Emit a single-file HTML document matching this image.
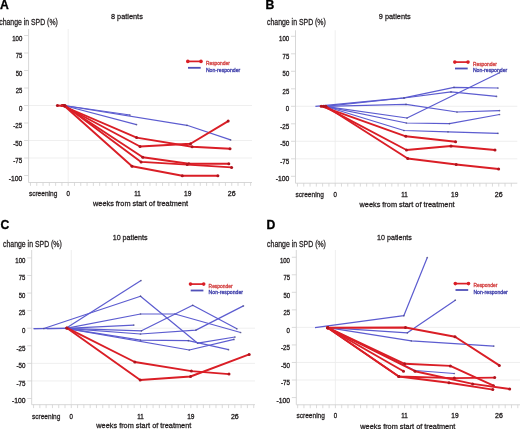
<!DOCTYPE html>
<html><head><meta charset="utf-8"><style>
html,body{margin:0;padding:0;background:#fff;width:520px;height:429px;overflow:hidden}
svg{display:block;font-family:"Liberation Sans", sans-serif;will-change:transform}
</style></head><body>
<svg width="520" height="429" viewBox="0 0 520 429">
<rect width="520" height="429" fill="#fff"/>
<line x1="28.6" y1="105.50" x2="252" y2="105.50" stroke="#ebebeb" stroke-width="0.8"/>
<line x1="28.6" y1="140.50" x2="252" y2="140.50" stroke="#ebebeb" stroke-width="0.8"/>
<line x1="28.6" y1="158.00" x2="252" y2="158.00" stroke="#ebebeb" stroke-width="0.8"/>
<line x1="68.2" y1="29.0" x2="68.2" y2="182.5" stroke="#ebebeb" stroke-width="0.8"/>
<line x1="28.6" y1="29.0" x2="28.6" y2="182.5" stroke="#d2d2d2" stroke-width="0.9"/>
<line x1="28.6" y1="182.5" x2="252" y2="182.5" stroke="#d2d2d2" stroke-width="0.9"/>
<line x1="24.1" y1="35.50" x2="28.6" y2="35.50" stroke="#d2d2d2" stroke-width="0.8"/>
<text x="22.3" y="40.70" font-size="6.9" fill="#231f20" font-weight="normal" text-anchor="end" stroke="#231f20" stroke-width="0.32" textLength="10.1" lengthAdjust="spacingAndGlyphs">100</text>
<line x1="24.1" y1="53.00" x2="28.6" y2="53.00" stroke="#d2d2d2" stroke-width="0.8"/>
<text x="22.3" y="58.20" font-size="6.9" fill="#231f20" font-weight="normal" text-anchor="end" stroke="#231f20" stroke-width="0.32" textLength="6.6" lengthAdjust="spacingAndGlyphs">75</text>
<line x1="24.1" y1="70.50" x2="28.6" y2="70.50" stroke="#d2d2d2" stroke-width="0.8"/>
<text x="22.3" y="75.70" font-size="6.9" fill="#231f20" font-weight="normal" text-anchor="end" stroke="#231f20" stroke-width="0.32" textLength="6.6" lengthAdjust="spacingAndGlyphs">50</text>
<line x1="24.1" y1="88.00" x2="28.6" y2="88.00" stroke="#d2d2d2" stroke-width="0.8"/>
<text x="22.3" y="93.20" font-size="6.9" fill="#231f20" font-weight="normal" text-anchor="end" stroke="#231f20" stroke-width="0.32" textLength="6.6" lengthAdjust="spacingAndGlyphs">25</text>
<line x1="24.1" y1="105.50" x2="28.6" y2="105.50" stroke="#d2d2d2" stroke-width="0.8"/>
<text x="22.3" y="110.70" font-size="6.9" fill="#231f20" font-weight="normal" text-anchor="end" stroke="#231f20" stroke-width="0.32" textLength="3.4" lengthAdjust="spacingAndGlyphs">0</text>
<line x1="24.1" y1="123.00" x2="28.6" y2="123.00" stroke="#d2d2d2" stroke-width="0.8"/>
<text x="22.3" y="128.20" font-size="6.9" fill="#231f20" font-weight="normal" text-anchor="end" stroke="#231f20" stroke-width="0.32" textLength="9.0" lengthAdjust="spacingAndGlyphs">-25</text>
<line x1="24.1" y1="140.50" x2="28.6" y2="140.50" stroke="#d2d2d2" stroke-width="0.8"/>
<text x="22.3" y="145.70" font-size="6.9" fill="#231f20" font-weight="normal" text-anchor="end" stroke="#231f20" stroke-width="0.32" textLength="9.0" lengthAdjust="spacingAndGlyphs">-50</text>
<line x1="24.1" y1="158.00" x2="28.6" y2="158.00" stroke="#d2d2d2" stroke-width="0.8"/>
<text x="22.3" y="163.20" font-size="6.9" fill="#231f20" font-weight="normal" text-anchor="end" stroke="#231f20" stroke-width="0.32" textLength="9.0" lengthAdjust="spacingAndGlyphs">-75</text>
<line x1="24.1" y1="175.50" x2="28.6" y2="175.50" stroke="#d2d2d2" stroke-width="0.8"/>
<text x="22.3" y="180.70" font-size="6.9" fill="#231f20" font-weight="normal" text-anchor="end" stroke="#231f20" stroke-width="0.32" textLength="13.5" lengthAdjust="spacingAndGlyphs">-100</text>
<line x1="30.46" y1="182.5" x2="30.46" y2="185.9" stroke="#d2d2d2" stroke-width="0.8"/>
<line x1="36.75" y1="182.5" x2="36.75" y2="185.9" stroke="#d2d2d2" stroke-width="0.8"/>
<line x1="43.04" y1="182.5" x2="43.04" y2="185.9" stroke="#d2d2d2" stroke-width="0.8"/>
<line x1="49.33" y1="182.5" x2="49.33" y2="185.9" stroke="#d2d2d2" stroke-width="0.8"/>
<line x1="55.62" y1="182.5" x2="55.62" y2="185.9" stroke="#d2d2d2" stroke-width="0.8"/>
<line x1="61.91" y1="182.5" x2="61.91" y2="185.9" stroke="#d2d2d2" stroke-width="0.8"/>
<line x1="68.20" y1="182.5" x2="68.20" y2="185.9" stroke="#d2d2d2" stroke-width="0.8"/>
<line x1="74.49" y1="182.5" x2="74.49" y2="185.9" stroke="#d2d2d2" stroke-width="0.8"/>
<line x1="80.78" y1="182.5" x2="80.78" y2="185.9" stroke="#d2d2d2" stroke-width="0.8"/>
<line x1="87.07" y1="182.5" x2="87.07" y2="185.9" stroke="#d2d2d2" stroke-width="0.8"/>
<line x1="93.36" y1="182.5" x2="93.36" y2="185.9" stroke="#d2d2d2" stroke-width="0.8"/>
<line x1="99.65" y1="182.5" x2="99.65" y2="185.9" stroke="#d2d2d2" stroke-width="0.8"/>
<line x1="105.94" y1="182.5" x2="105.94" y2="185.9" stroke="#d2d2d2" stroke-width="0.8"/>
<line x1="112.23" y1="182.5" x2="112.23" y2="185.9" stroke="#d2d2d2" stroke-width="0.8"/>
<line x1="118.52" y1="182.5" x2="118.52" y2="185.9" stroke="#d2d2d2" stroke-width="0.8"/>
<line x1="124.81" y1="182.5" x2="124.81" y2="185.9" stroke="#d2d2d2" stroke-width="0.8"/>
<line x1="131.10" y1="182.5" x2="131.10" y2="185.9" stroke="#d2d2d2" stroke-width="0.8"/>
<line x1="137.39" y1="182.5" x2="137.39" y2="185.9" stroke="#d2d2d2" stroke-width="0.8"/>
<line x1="143.68" y1="182.5" x2="143.68" y2="185.9" stroke="#d2d2d2" stroke-width="0.8"/>
<line x1="149.97" y1="182.5" x2="149.97" y2="185.9" stroke="#d2d2d2" stroke-width="0.8"/>
<line x1="156.26" y1="182.5" x2="156.26" y2="185.9" stroke="#d2d2d2" stroke-width="0.8"/>
<line x1="162.55" y1="182.5" x2="162.55" y2="185.9" stroke="#d2d2d2" stroke-width="0.8"/>
<line x1="168.84" y1="182.5" x2="168.84" y2="185.9" stroke="#d2d2d2" stroke-width="0.8"/>
<line x1="175.13" y1="182.5" x2="175.13" y2="185.9" stroke="#d2d2d2" stroke-width="0.8"/>
<line x1="181.42" y1="182.5" x2="181.42" y2="185.9" stroke="#d2d2d2" stroke-width="0.8"/>
<line x1="187.71" y1="182.5" x2="187.71" y2="185.9" stroke="#d2d2d2" stroke-width="0.8"/>
<line x1="194.00" y1="182.5" x2="194.00" y2="185.9" stroke="#d2d2d2" stroke-width="0.8"/>
<line x1="200.29" y1="182.5" x2="200.29" y2="185.9" stroke="#d2d2d2" stroke-width="0.8"/>
<line x1="206.58" y1="182.5" x2="206.58" y2="185.9" stroke="#d2d2d2" stroke-width="0.8"/>
<line x1="212.87" y1="182.5" x2="212.87" y2="185.9" stroke="#d2d2d2" stroke-width="0.8"/>
<line x1="219.16" y1="182.5" x2="219.16" y2="185.9" stroke="#d2d2d2" stroke-width="0.8"/>
<line x1="225.45" y1="182.5" x2="225.45" y2="185.9" stroke="#d2d2d2" stroke-width="0.8"/>
<line x1="231.74" y1="182.5" x2="231.74" y2="185.9" stroke="#d2d2d2" stroke-width="0.8"/>
<line x1="238.03" y1="182.5" x2="238.03" y2="185.9" stroke="#d2d2d2" stroke-width="0.8"/>
<line x1="244.32" y1="182.5" x2="244.32" y2="185.9" stroke="#d2d2d2" stroke-width="0.8"/>
<line x1="250.61" y1="182.5" x2="250.61" y2="185.9" stroke="#d2d2d2" stroke-width="0.8"/>
<text x="28.9" y="195.6" font-size="7.6" fill="#231f20" font-weight="normal" text-anchor="start" stroke="#231f20" stroke-width="0.28" textLength="28.4" lengthAdjust="spacingAndGlyphs">screening</text>
<text x="68.20" y="195.6" font-size="6.9" fill="#231f20" font-weight="normal" text-anchor="middle" stroke="#231f20" stroke-width="0.32" textLength="3.4" lengthAdjust="spacingAndGlyphs">0</text>
<text x="137.39" y="195.6" font-size="6.9" fill="#231f20" font-weight="normal" text-anchor="middle" stroke="#231f20" stroke-width="0.32" textLength="6.5" lengthAdjust="spacingAndGlyphs">11</text>
<text x="187.71" y="195.6" font-size="6.9" fill="#231f20" font-weight="normal" text-anchor="middle" stroke="#231f20" stroke-width="0.32" textLength="7.3" lengthAdjust="spacingAndGlyphs">19</text>
<text x="231.74" y="195.6" font-size="6.9" fill="#231f20" font-weight="normal" text-anchor="middle" stroke="#231f20" stroke-width="0.32" textLength="7.8" lengthAdjust="spacingAndGlyphs">26</text>
<text x="93" y="206.4" font-size="7.4" fill="#231f20" font-weight="normal" text-anchor="start" stroke="#231f20" stroke-width="0.28" textLength="95" lengthAdjust="spacingAndGlyphs">weeks from start of treatment</text>
<text x="0.1" y="8.7" font-size="12.2" fill="#000" font-weight="bold" text-anchor="start" stroke="#000" stroke-width="0.3">A</text>
<text x="-0.8" y="24.5" font-size="8.3" fill="#231f20" font-weight="normal" text-anchor="start" stroke="#231f20" stroke-width="0.28" textLength="58.6" lengthAdjust="spacingAndGlyphs">change in SPD (%)</text>
<text x="111" y="18.6" font-size="7.6" fill="#231f20" font-weight="normal" text-anchor="start" stroke="#231f20" stroke-width="0.28" textLength="31.8" lengthAdjust="spacingAndGlyphs">8 patients</text>
<line x1="187.8" y1="61.4" x2="201.0" y2="61.4" stroke="#da1e26" stroke-width="1.7"/>
<circle cx="187.8" cy="61.4" r="1.8" fill="#da1e26"/>
<circle cx="201.0" cy="61.4" r="1.8" fill="#da1e26"/>
<line x1="188.0" y1="67.8" x2="200.7" y2="67.8" stroke="#5050b8" stroke-width="1.8"/>
<text x="205.9" y="65.0" font-size="5.2" fill="#d23a3a" font-weight="normal" text-anchor="start" stroke="#d23a3a" stroke-width="0.28" textLength="24" lengthAdjust="spacingAndGlyphs">Responder</text>
<text x="205.9" y="71.7" font-size="5.2" fill="#3a3aa8" font-weight="normal" text-anchor="start" stroke="#3a3aa8" stroke-width="0.28" textLength="34.4" lengthAdjust="spacingAndGlyphs">Non-responder</text>
<polyline points="64,105.5 187,125.3 230.6,139.9" fill="none" stroke="#5c5cd0" stroke-width="1.2" stroke-linejoin="round"/>
<circle cx="187" cy="125.3" r="0.85" fill="#4a4a80" opacity="0.75"/>
<circle cx="230.6" cy="139.9" r="0.85" fill="#4a4a80" opacity="0.75"/>
<polyline points="64,105.5 136.5,124.6" fill="none" stroke="#5c5cd0" stroke-width="1.2" stroke-linejoin="round"/>
<circle cx="136.5" cy="124.6" r="0.85" fill="#4a4a80" opacity="0.75"/>
<polyline points="64,105.5 130,115" fill="none" stroke="#5c5cd0" stroke-width="1.2" stroke-linejoin="round"/>
<circle cx="130" cy="115" r="0.85" fill="#4a4a80" opacity="0.75"/>
<polyline points="62,105.5 136.6,137.6 192.1,146.7 230,148.7" fill="none" stroke="#da1e26" stroke-width="1.9" stroke-linejoin="round"/>
<circle cx="62" cy="105.5" r="1.5" fill="#b0141d"/>
<circle cx="136.6" cy="137.6" r="1.5" fill="#b0141d"/>
<circle cx="192.1" cy="146.7" r="1.5" fill="#b0141d"/>
<circle cx="230" cy="148.7" r="1.5" fill="#b0141d"/>
<polyline points="63,105.5 140,146.5 190.5,143.8 228.2,121.1" fill="none" stroke="#da1e26" stroke-width="1.9" stroke-linejoin="round"/>
<circle cx="63" cy="105.5" r="1.5" fill="#b0141d"/>
<circle cx="140" cy="146.5" r="1.5" fill="#b0141d"/>
<circle cx="190.5" cy="143.8" r="1.5" fill="#b0141d"/>
<circle cx="228.2" cy="121.1" r="1.5" fill="#b0141d"/>
<polyline points="64,105.5 142.8,157.3 188.9,163.8 228.8,163.8" fill="none" stroke="#da1e26" stroke-width="1.9" stroke-linejoin="round"/>
<circle cx="64" cy="105.5" r="1.5" fill="#b0141d"/>
<circle cx="142.8" cy="157.3" r="1.5" fill="#b0141d"/>
<circle cx="188.9" cy="163.8" r="1.5" fill="#b0141d"/>
<circle cx="228.8" cy="163.8" r="1.5" fill="#b0141d"/>
<polyline points="65,105.5 141.1,161.9 187.2,164.6 231.6,167.4" fill="none" stroke="#da1e26" stroke-width="1.9" stroke-linejoin="round"/>
<circle cx="65" cy="105.5" r="1.5" fill="#b0141d"/>
<circle cx="141.1" cy="161.9" r="1.5" fill="#b0141d"/>
<circle cx="187.2" cy="164.6" r="1.5" fill="#b0141d"/>
<circle cx="231.6" cy="167.4" r="1.5" fill="#b0141d"/>
<polyline points="57.4,105.5 64.5,106 132,166.2 182.3,175.7 217.9,175.7" fill="none" stroke="#da1e26" stroke-width="1.9" stroke-linejoin="round"/>
<circle cx="57.4" cy="105.5" r="1.5" fill="#b0141d"/>
<circle cx="64.5" cy="106" r="1.5" fill="#b0141d"/>
<circle cx="132" cy="166.2" r="1.5" fill="#b0141d"/>
<circle cx="182.3" cy="175.7" r="1.5" fill="#b0141d"/>
<circle cx="217.9" cy="175.7" r="1.5" fill="#b0141d"/>
<line x1="295.5" y1="106.30" x2="517.3" y2="106.30" stroke="#ebebeb" stroke-width="0.8"/>
<line x1="295.5" y1="141.30" x2="517.3" y2="141.30" stroke="#ebebeb" stroke-width="0.8"/>
<line x1="295.5" y1="158.80" x2="517.3" y2="158.80" stroke="#ebebeb" stroke-width="0.8"/>
<line x1="335.2" y1="30.3" x2="335.2" y2="183.2" stroke="#ebebeb" stroke-width="0.8"/>
<line x1="295.5" y1="30.3" x2="295.5" y2="183.2" stroke="#d2d2d2" stroke-width="0.9"/>
<line x1="295.5" y1="183.2" x2="517.3" y2="183.2" stroke="#d2d2d2" stroke-width="0.9"/>
<line x1="291.0" y1="36.30" x2="295.5" y2="36.30" stroke="#d2d2d2" stroke-width="0.8"/>
<text x="289.2" y="41.40" font-size="6.9" fill="#231f20" font-weight="normal" text-anchor="end" stroke="#231f20" stroke-width="0.32" textLength="10.1" lengthAdjust="spacingAndGlyphs">100</text>
<line x1="291.0" y1="53.80" x2="295.5" y2="53.80" stroke="#d2d2d2" stroke-width="0.8"/>
<text x="289.2" y="58.90" font-size="6.9" fill="#231f20" font-weight="normal" text-anchor="end" stroke="#231f20" stroke-width="0.32" textLength="6.6" lengthAdjust="spacingAndGlyphs">75</text>
<line x1="291.0" y1="71.30" x2="295.5" y2="71.30" stroke="#d2d2d2" stroke-width="0.8"/>
<text x="289.2" y="76.40" font-size="6.9" fill="#231f20" font-weight="normal" text-anchor="end" stroke="#231f20" stroke-width="0.32" textLength="6.6" lengthAdjust="spacingAndGlyphs">50</text>
<line x1="291.0" y1="88.80" x2="295.5" y2="88.80" stroke="#d2d2d2" stroke-width="0.8"/>
<text x="289.2" y="93.90" font-size="6.9" fill="#231f20" font-weight="normal" text-anchor="end" stroke="#231f20" stroke-width="0.32" textLength="6.6" lengthAdjust="spacingAndGlyphs">25</text>
<line x1="291.0" y1="106.30" x2="295.5" y2="106.30" stroke="#d2d2d2" stroke-width="0.8"/>
<text x="289.2" y="111.40" font-size="6.9" fill="#231f20" font-weight="normal" text-anchor="end" stroke="#231f20" stroke-width="0.32" textLength="3.4" lengthAdjust="spacingAndGlyphs">0</text>
<line x1="291.0" y1="123.80" x2="295.5" y2="123.80" stroke="#d2d2d2" stroke-width="0.8"/>
<text x="289.2" y="128.90" font-size="6.9" fill="#231f20" font-weight="normal" text-anchor="end" stroke="#231f20" stroke-width="0.32" textLength="9.0" lengthAdjust="spacingAndGlyphs">-25</text>
<line x1="291.0" y1="141.30" x2="295.5" y2="141.30" stroke="#d2d2d2" stroke-width="0.8"/>
<text x="289.2" y="146.40" font-size="6.9" fill="#231f20" font-weight="normal" text-anchor="end" stroke="#231f20" stroke-width="0.32" textLength="9.0" lengthAdjust="spacingAndGlyphs">-50</text>
<line x1="291.0" y1="158.80" x2="295.5" y2="158.80" stroke="#d2d2d2" stroke-width="0.8"/>
<text x="289.2" y="163.90" font-size="6.9" fill="#231f20" font-weight="normal" text-anchor="end" stroke="#231f20" stroke-width="0.32" textLength="9.0" lengthAdjust="spacingAndGlyphs">-75</text>
<line x1="291.0" y1="176.30" x2="295.5" y2="176.30" stroke="#d2d2d2" stroke-width="0.8"/>
<text x="289.2" y="181.40" font-size="6.9" fill="#231f20" font-weight="normal" text-anchor="end" stroke="#231f20" stroke-width="0.32" textLength="13.5" lengthAdjust="spacingAndGlyphs">-100</text>
<line x1="297.46" y1="183.2" x2="297.46" y2="186.6" stroke="#d2d2d2" stroke-width="0.8"/>
<line x1="303.75" y1="183.2" x2="303.75" y2="186.6" stroke="#d2d2d2" stroke-width="0.8"/>
<line x1="310.04" y1="183.2" x2="310.04" y2="186.6" stroke="#d2d2d2" stroke-width="0.8"/>
<line x1="316.33" y1="183.2" x2="316.33" y2="186.6" stroke="#d2d2d2" stroke-width="0.8"/>
<line x1="322.62" y1="183.2" x2="322.62" y2="186.6" stroke="#d2d2d2" stroke-width="0.8"/>
<line x1="328.91" y1="183.2" x2="328.91" y2="186.6" stroke="#d2d2d2" stroke-width="0.8"/>
<line x1="335.20" y1="183.2" x2="335.20" y2="186.6" stroke="#d2d2d2" stroke-width="0.8"/>
<line x1="341.49" y1="183.2" x2="341.49" y2="186.6" stroke="#d2d2d2" stroke-width="0.8"/>
<line x1="347.78" y1="183.2" x2="347.78" y2="186.6" stroke="#d2d2d2" stroke-width="0.8"/>
<line x1="354.07" y1="183.2" x2="354.07" y2="186.6" stroke="#d2d2d2" stroke-width="0.8"/>
<line x1="360.36" y1="183.2" x2="360.36" y2="186.6" stroke="#d2d2d2" stroke-width="0.8"/>
<line x1="366.65" y1="183.2" x2="366.65" y2="186.6" stroke="#d2d2d2" stroke-width="0.8"/>
<line x1="372.94" y1="183.2" x2="372.94" y2="186.6" stroke="#d2d2d2" stroke-width="0.8"/>
<line x1="379.23" y1="183.2" x2="379.23" y2="186.6" stroke="#d2d2d2" stroke-width="0.8"/>
<line x1="385.52" y1="183.2" x2="385.52" y2="186.6" stroke="#d2d2d2" stroke-width="0.8"/>
<line x1="391.81" y1="183.2" x2="391.81" y2="186.6" stroke="#d2d2d2" stroke-width="0.8"/>
<line x1="398.10" y1="183.2" x2="398.10" y2="186.6" stroke="#d2d2d2" stroke-width="0.8"/>
<line x1="404.39" y1="183.2" x2="404.39" y2="186.6" stroke="#d2d2d2" stroke-width="0.8"/>
<line x1="410.68" y1="183.2" x2="410.68" y2="186.6" stroke="#d2d2d2" stroke-width="0.8"/>
<line x1="416.97" y1="183.2" x2="416.97" y2="186.6" stroke="#d2d2d2" stroke-width="0.8"/>
<line x1="423.26" y1="183.2" x2="423.26" y2="186.6" stroke="#d2d2d2" stroke-width="0.8"/>
<line x1="429.55" y1="183.2" x2="429.55" y2="186.6" stroke="#d2d2d2" stroke-width="0.8"/>
<line x1="435.84" y1="183.2" x2="435.84" y2="186.6" stroke="#d2d2d2" stroke-width="0.8"/>
<line x1="442.13" y1="183.2" x2="442.13" y2="186.6" stroke="#d2d2d2" stroke-width="0.8"/>
<line x1="448.42" y1="183.2" x2="448.42" y2="186.6" stroke="#d2d2d2" stroke-width="0.8"/>
<line x1="454.71" y1="183.2" x2="454.71" y2="186.6" stroke="#d2d2d2" stroke-width="0.8"/>
<line x1="461.00" y1="183.2" x2="461.00" y2="186.6" stroke="#d2d2d2" stroke-width="0.8"/>
<line x1="467.29" y1="183.2" x2="467.29" y2="186.6" stroke="#d2d2d2" stroke-width="0.8"/>
<line x1="473.58" y1="183.2" x2="473.58" y2="186.6" stroke="#d2d2d2" stroke-width="0.8"/>
<line x1="479.87" y1="183.2" x2="479.87" y2="186.6" stroke="#d2d2d2" stroke-width="0.8"/>
<line x1="486.16" y1="183.2" x2="486.16" y2="186.6" stroke="#d2d2d2" stroke-width="0.8"/>
<line x1="492.45" y1="183.2" x2="492.45" y2="186.6" stroke="#d2d2d2" stroke-width="0.8"/>
<line x1="498.74" y1="183.2" x2="498.74" y2="186.6" stroke="#d2d2d2" stroke-width="0.8"/>
<line x1="505.03" y1="183.2" x2="505.03" y2="186.6" stroke="#d2d2d2" stroke-width="0.8"/>
<line x1="511.32" y1="183.2" x2="511.32" y2="186.6" stroke="#d2d2d2" stroke-width="0.8"/>
<text x="295.5" y="196.9" font-size="7.6" fill="#231f20" font-weight="normal" text-anchor="start" stroke="#231f20" stroke-width="0.28" textLength="28.4" lengthAdjust="spacingAndGlyphs">screening</text>
<text x="335.20" y="196.9" font-size="6.9" fill="#231f20" font-weight="normal" text-anchor="middle" stroke="#231f20" stroke-width="0.32" textLength="3.4" lengthAdjust="spacingAndGlyphs">0</text>
<text x="404.39" y="196.9" font-size="6.9" fill="#231f20" font-weight="normal" text-anchor="middle" stroke="#231f20" stroke-width="0.32" textLength="6.5" lengthAdjust="spacingAndGlyphs">11</text>
<text x="454.71" y="196.9" font-size="6.9" fill="#231f20" font-weight="normal" text-anchor="middle" stroke="#231f20" stroke-width="0.32" textLength="7.3" lengthAdjust="spacingAndGlyphs">19</text>
<text x="498.74" y="196.9" font-size="6.9" fill="#231f20" font-weight="normal" text-anchor="middle" stroke="#231f20" stroke-width="0.32" textLength="7.8" lengthAdjust="spacingAndGlyphs">26</text>
<text x="359.5" y="207.2" font-size="7.4" fill="#231f20" font-weight="normal" text-anchor="start" stroke="#231f20" stroke-width="0.28" textLength="95" lengthAdjust="spacingAndGlyphs">weeks from start of treatment</text>
<text x="265.5" y="8.6" font-size="12.2" fill="#000" font-weight="bold" text-anchor="start" stroke="#000" stroke-width="0.3">B</text>
<text x="267" y="24.7" font-size="8.3" fill="#231f20" font-weight="normal" text-anchor="start" stroke="#231f20" stroke-width="0.28" textLength="58.8" lengthAdjust="spacingAndGlyphs">change in SPD (%)</text>
<text x="378.8" y="18.9" font-size="7.6" fill="#231f20" font-weight="normal" text-anchor="start" stroke="#231f20" stroke-width="0.28" textLength="31.9" lengthAdjust="spacingAndGlyphs">9 patients</text>
<line x1="454.8" y1="62.1" x2="468.0" y2="62.1" stroke="#da1e26" stroke-width="1.7"/>
<circle cx="454.8" cy="62.1" r="1.8" fill="#da1e26"/>
<circle cx="468.0" cy="62.1" r="1.8" fill="#da1e26"/>
<line x1="455.0" y1="68.5" x2="467.7" y2="68.5" stroke="#5050b8" stroke-width="1.8"/>
<text x="472.9" y="65.7" font-size="5.2" fill="#d23a3a" font-weight="normal" text-anchor="start" stroke="#d23a3a" stroke-width="0.28" textLength="24" lengthAdjust="spacingAndGlyphs">Responder</text>
<text x="472.9" y="72.4" font-size="5.2" fill="#3a3aa8" font-weight="normal" text-anchor="start" stroke="#3a3aa8" stroke-width="0.28" textLength="34.4" lengthAdjust="spacingAndGlyphs">Non-responder</text>
<polyline points="315.4,106.4 404,97.8 454,87.3 498,88" fill="none" stroke="#5c5cd0" stroke-width="1.2" stroke-linejoin="round"/>
<circle cx="404" cy="97.8" r="0.85" fill="#4a4a80" opacity="0.75"/>
<circle cx="454" cy="87.3" r="0.85" fill="#4a4a80" opacity="0.75"/>
<circle cx="498" cy="88" r="0.85" fill="#4a4a80" opacity="0.75"/>
<polyline points="325,106.3 404,98 451,91.8 496.5,96.4" fill="none" stroke="#5c5cd0" stroke-width="1.2" stroke-linejoin="round"/>
<circle cx="404" cy="98" r="0.85" fill="#4a4a80" opacity="0.75"/>
<circle cx="451" cy="91.8" r="0.85" fill="#4a4a80" opacity="0.75"/>
<circle cx="496.5" cy="96.4" r="0.85" fill="#4a4a80" opacity="0.75"/>
<polyline points="325,106.3 406,104.3 457,112 499.5,110.6" fill="none" stroke="#5c5cd0" stroke-width="1.2" stroke-linejoin="round"/>
<circle cx="406" cy="104.3" r="0.85" fill="#4a4a80" opacity="0.75"/>
<circle cx="457" cy="112" r="0.85" fill="#4a4a80" opacity="0.75"/>
<circle cx="499.5" cy="110.6" r="0.85" fill="#4a4a80" opacity="0.75"/>
<polyline points="325,106.3 407,118 499.5,72.7" fill="none" stroke="#5c5cd0" stroke-width="1.2" stroke-linejoin="round"/>
<circle cx="407" cy="118" r="0.85" fill="#4a4a80" opacity="0.75"/>
<circle cx="499.5" cy="72.7" r="0.85" fill="#4a4a80" opacity="0.75"/>
<polyline points="325,106.3 406.4,123 449.5,123.6 499.5,114.5" fill="none" stroke="#5c5cd0" stroke-width="1.2" stroke-linejoin="round"/>
<circle cx="406.4" cy="123" r="0.85" fill="#4a4a80" opacity="0.75"/>
<circle cx="449.5" cy="123.6" r="0.85" fill="#4a4a80" opacity="0.75"/>
<circle cx="499.5" cy="114.5" r="0.85" fill="#4a4a80" opacity="0.75"/>
<polyline points="325,106.3 404,130.5 448,131.8 498,133.3" fill="none" stroke="#5c5cd0" stroke-width="1.2" stroke-linejoin="round"/>
<circle cx="404" cy="130.5" r="0.85" fill="#4a4a80" opacity="0.75"/>
<circle cx="448" cy="131.8" r="0.85" fill="#4a4a80" opacity="0.75"/>
<circle cx="498" cy="133.3" r="0.85" fill="#4a4a80" opacity="0.75"/>
<polyline points="321.2,106.2 405.8,136.3 455.6,141.8" fill="none" stroke="#da1e26" stroke-width="1.9" stroke-linejoin="round"/>
<circle cx="321.2" cy="106.2" r="1.5" fill="#b0141d"/>
<circle cx="405.8" cy="136.3" r="1.5" fill="#b0141d"/>
<circle cx="455.6" cy="141.8" r="1.5" fill="#b0141d"/>
<polyline points="323.5,106.2 406.5,150 451,146 495,150" fill="none" stroke="#da1e26" stroke-width="1.9" stroke-linejoin="round"/>
<circle cx="323.5" cy="106.2" r="1.5" fill="#b0141d"/>
<circle cx="406.5" cy="150" r="1.5" fill="#b0141d"/>
<circle cx="451" cy="146" r="1.5" fill="#b0141d"/>
<circle cx="495" cy="150" r="1.5" fill="#b0141d"/>
<polyline points="325.8,106.2 407.7,158.5 456.2,164.5 498.6,169" fill="none" stroke="#da1e26" stroke-width="1.9" stroke-linejoin="round"/>
<circle cx="325.8" cy="106.2" r="1.5" fill="#b0141d"/>
<circle cx="407.7" cy="158.5" r="1.5" fill="#b0141d"/>
<circle cx="456.2" cy="164.5" r="1.5" fill="#b0141d"/>
<circle cx="498.6" cy="169" r="1.5" fill="#b0141d"/>
<line x1="31.7" y1="328.20" x2="255" y2="328.20" stroke="#ebebeb" stroke-width="0.8"/>
<line x1="31.7" y1="363.35" x2="255" y2="363.35" stroke="#ebebeb" stroke-width="0.8"/>
<line x1="31.7" y1="380.92" x2="255" y2="380.92" stroke="#ebebeb" stroke-width="0.8"/>
<line x1="71.3" y1="250" x2="71.3" y2="404.7" stroke="#ebebeb" stroke-width="0.8"/>
<line x1="31.7" y1="250" x2="31.7" y2="404.7" stroke="#d2d2d2" stroke-width="0.9"/>
<line x1="31.7" y1="404.7" x2="255" y2="404.7" stroke="#d2d2d2" stroke-width="0.9"/>
<line x1="27.2" y1="257.90" x2="31.7" y2="257.90" stroke="#d2d2d2" stroke-width="0.8"/>
<text x="25.4" y="262.70" font-size="6.9" fill="#231f20" font-weight="normal" text-anchor="end" stroke="#231f20" stroke-width="0.32" textLength="10.1" lengthAdjust="spacingAndGlyphs">100</text>
<line x1="27.2" y1="275.48" x2="31.7" y2="275.48" stroke="#d2d2d2" stroke-width="0.8"/>
<text x="25.4" y="280.28" font-size="6.9" fill="#231f20" font-weight="normal" text-anchor="end" stroke="#231f20" stroke-width="0.32" textLength="6.6" lengthAdjust="spacingAndGlyphs">75</text>
<line x1="27.2" y1="293.05" x2="31.7" y2="293.05" stroke="#d2d2d2" stroke-width="0.8"/>
<text x="25.4" y="297.85" font-size="6.9" fill="#231f20" font-weight="normal" text-anchor="end" stroke="#231f20" stroke-width="0.32" textLength="6.6" lengthAdjust="spacingAndGlyphs">50</text>
<line x1="27.2" y1="310.62" x2="31.7" y2="310.62" stroke="#d2d2d2" stroke-width="0.8"/>
<text x="25.4" y="315.43" font-size="6.9" fill="#231f20" font-weight="normal" text-anchor="end" stroke="#231f20" stroke-width="0.32" textLength="6.6" lengthAdjust="spacingAndGlyphs">25</text>
<line x1="27.2" y1="328.20" x2="31.7" y2="328.20" stroke="#d2d2d2" stroke-width="0.8"/>
<text x="25.4" y="333.00" font-size="6.9" fill="#231f20" font-weight="normal" text-anchor="end" stroke="#231f20" stroke-width="0.32" textLength="3.4" lengthAdjust="spacingAndGlyphs">0</text>
<line x1="27.2" y1="345.77" x2="31.7" y2="345.77" stroke="#d2d2d2" stroke-width="0.8"/>
<text x="25.4" y="350.57" font-size="6.9" fill="#231f20" font-weight="normal" text-anchor="end" stroke="#231f20" stroke-width="0.32" textLength="9.0" lengthAdjust="spacingAndGlyphs">-25</text>
<line x1="27.2" y1="363.35" x2="31.7" y2="363.35" stroke="#d2d2d2" stroke-width="0.8"/>
<text x="25.4" y="368.15" font-size="6.9" fill="#231f20" font-weight="normal" text-anchor="end" stroke="#231f20" stroke-width="0.32" textLength="9.0" lengthAdjust="spacingAndGlyphs">-50</text>
<line x1="27.2" y1="380.92" x2="31.7" y2="380.92" stroke="#d2d2d2" stroke-width="0.8"/>
<text x="25.4" y="385.72" font-size="6.9" fill="#231f20" font-weight="normal" text-anchor="end" stroke="#231f20" stroke-width="0.32" textLength="9.0" lengthAdjust="spacingAndGlyphs">-75</text>
<line x1="27.2" y1="398.50" x2="31.7" y2="398.50" stroke="#d2d2d2" stroke-width="0.8"/>
<text x="25.4" y="403.30" font-size="6.9" fill="#231f20" font-weight="normal" text-anchor="end" stroke="#231f20" stroke-width="0.32" textLength="13.5" lengthAdjust="spacingAndGlyphs">-100</text>
<line x1="33.56" y1="404.7" x2="33.56" y2="408.09999999999997" stroke="#d2d2d2" stroke-width="0.8"/>
<line x1="39.85" y1="404.7" x2="39.85" y2="408.09999999999997" stroke="#d2d2d2" stroke-width="0.8"/>
<line x1="46.14" y1="404.7" x2="46.14" y2="408.09999999999997" stroke="#d2d2d2" stroke-width="0.8"/>
<line x1="52.43" y1="404.7" x2="52.43" y2="408.09999999999997" stroke="#d2d2d2" stroke-width="0.8"/>
<line x1="58.72" y1="404.7" x2="58.72" y2="408.09999999999997" stroke="#d2d2d2" stroke-width="0.8"/>
<line x1="65.01" y1="404.7" x2="65.01" y2="408.09999999999997" stroke="#d2d2d2" stroke-width="0.8"/>
<line x1="71.30" y1="404.7" x2="71.30" y2="408.09999999999997" stroke="#d2d2d2" stroke-width="0.8"/>
<line x1="77.59" y1="404.7" x2="77.59" y2="408.09999999999997" stroke="#d2d2d2" stroke-width="0.8"/>
<line x1="83.88" y1="404.7" x2="83.88" y2="408.09999999999997" stroke="#d2d2d2" stroke-width="0.8"/>
<line x1="90.17" y1="404.7" x2="90.17" y2="408.09999999999997" stroke="#d2d2d2" stroke-width="0.8"/>
<line x1="96.46" y1="404.7" x2="96.46" y2="408.09999999999997" stroke="#d2d2d2" stroke-width="0.8"/>
<line x1="102.75" y1="404.7" x2="102.75" y2="408.09999999999997" stroke="#d2d2d2" stroke-width="0.8"/>
<line x1="109.04" y1="404.7" x2="109.04" y2="408.09999999999997" stroke="#d2d2d2" stroke-width="0.8"/>
<line x1="115.33" y1="404.7" x2="115.33" y2="408.09999999999997" stroke="#d2d2d2" stroke-width="0.8"/>
<line x1="121.62" y1="404.7" x2="121.62" y2="408.09999999999997" stroke="#d2d2d2" stroke-width="0.8"/>
<line x1="127.91" y1="404.7" x2="127.91" y2="408.09999999999997" stroke="#d2d2d2" stroke-width="0.8"/>
<line x1="134.20" y1="404.7" x2="134.20" y2="408.09999999999997" stroke="#d2d2d2" stroke-width="0.8"/>
<line x1="140.49" y1="404.7" x2="140.49" y2="408.09999999999997" stroke="#d2d2d2" stroke-width="0.8"/>
<line x1="146.78" y1="404.7" x2="146.78" y2="408.09999999999997" stroke="#d2d2d2" stroke-width="0.8"/>
<line x1="153.07" y1="404.7" x2="153.07" y2="408.09999999999997" stroke="#d2d2d2" stroke-width="0.8"/>
<line x1="159.36" y1="404.7" x2="159.36" y2="408.09999999999997" stroke="#d2d2d2" stroke-width="0.8"/>
<line x1="165.65" y1="404.7" x2="165.65" y2="408.09999999999997" stroke="#d2d2d2" stroke-width="0.8"/>
<line x1="171.94" y1="404.7" x2="171.94" y2="408.09999999999997" stroke="#d2d2d2" stroke-width="0.8"/>
<line x1="178.23" y1="404.7" x2="178.23" y2="408.09999999999997" stroke="#d2d2d2" stroke-width="0.8"/>
<line x1="184.52" y1="404.7" x2="184.52" y2="408.09999999999997" stroke="#d2d2d2" stroke-width="0.8"/>
<line x1="190.81" y1="404.7" x2="190.81" y2="408.09999999999997" stroke="#d2d2d2" stroke-width="0.8"/>
<line x1="197.10" y1="404.7" x2="197.10" y2="408.09999999999997" stroke="#d2d2d2" stroke-width="0.8"/>
<line x1="203.39" y1="404.7" x2="203.39" y2="408.09999999999997" stroke="#d2d2d2" stroke-width="0.8"/>
<line x1="209.68" y1="404.7" x2="209.68" y2="408.09999999999997" stroke="#d2d2d2" stroke-width="0.8"/>
<line x1="215.97" y1="404.7" x2="215.97" y2="408.09999999999997" stroke="#d2d2d2" stroke-width="0.8"/>
<line x1="222.26" y1="404.7" x2="222.26" y2="408.09999999999997" stroke="#d2d2d2" stroke-width="0.8"/>
<line x1="228.55" y1="404.7" x2="228.55" y2="408.09999999999997" stroke="#d2d2d2" stroke-width="0.8"/>
<line x1="234.84" y1="404.7" x2="234.84" y2="408.09999999999997" stroke="#d2d2d2" stroke-width="0.8"/>
<line x1="241.13" y1="404.7" x2="241.13" y2="408.09999999999997" stroke="#d2d2d2" stroke-width="0.8"/>
<line x1="247.42" y1="404.7" x2="247.42" y2="408.09999999999997" stroke="#d2d2d2" stroke-width="0.8"/>
<line x1="253.71" y1="404.7" x2="253.71" y2="408.09999999999997" stroke="#d2d2d2" stroke-width="0.8"/>
<text x="32" y="418.5" font-size="7.6" fill="#231f20" font-weight="normal" text-anchor="start" stroke="#231f20" stroke-width="0.28" textLength="28.4" lengthAdjust="spacingAndGlyphs">screening</text>
<text x="71.30" y="418.5" font-size="6.9" fill="#231f20" font-weight="normal" text-anchor="middle" stroke="#231f20" stroke-width="0.32" textLength="3.4" lengthAdjust="spacingAndGlyphs">0</text>
<text x="140.49" y="418.5" font-size="6.9" fill="#231f20" font-weight="normal" text-anchor="middle" stroke="#231f20" stroke-width="0.32" textLength="6.5" lengthAdjust="spacingAndGlyphs">11</text>
<text x="190.81" y="418.5" font-size="6.9" fill="#231f20" font-weight="normal" text-anchor="middle" stroke="#231f20" stroke-width="0.32" textLength="7.3" lengthAdjust="spacingAndGlyphs">19</text>
<text x="234.84" y="418.5" font-size="6.9" fill="#231f20" font-weight="normal" text-anchor="middle" stroke="#231f20" stroke-width="0.32" textLength="7.8" lengthAdjust="spacingAndGlyphs">26</text>
<text x="96.3" y="428.1" font-size="7.4" fill="#231f20" font-weight="normal" text-anchor="start" stroke="#231f20" stroke-width="0.28" textLength="95" lengthAdjust="spacingAndGlyphs">weeks from start of treatment</text>
<text x="0.6" y="229.2" font-size="12.2" fill="#000" font-weight="bold" text-anchor="start" stroke="#000" stroke-width="0.3">C</text>
<text x="3" y="247.2" font-size="8.3" fill="#231f20" font-weight="normal" text-anchor="start" stroke="#231f20" stroke-width="0.28" textLength="58.8" lengthAdjust="spacingAndGlyphs">change in SPD (%)</text>
<text x="112.7" y="240.3" font-size="7.6" fill="#231f20" font-weight="normal" text-anchor="start" stroke="#231f20" stroke-width="0.28" textLength="34.8" lengthAdjust="spacingAndGlyphs">10 patients</text>
<line x1="190.5" y1="284.1" x2="203.7" y2="284.1" stroke="#da1e26" stroke-width="1.7"/>
<circle cx="190.5" cy="284.1" r="1.8" fill="#da1e26"/>
<circle cx="203.7" cy="284.1" r="1.8" fill="#da1e26"/>
<line x1="190.7" y1="290.5" x2="203.39999999999998" y2="290.5" stroke="#5050b8" stroke-width="1.8"/>
<text x="208.6" y="287.70000000000005" font-size="5.2" fill="#d23a3a" font-weight="normal" text-anchor="start" stroke="#d23a3a" stroke-width="0.28" textLength="24" lengthAdjust="spacingAndGlyphs">Responder</text>
<text x="208.6" y="294.40000000000003" font-size="5.2" fill="#3a3aa8" font-weight="normal" text-anchor="start" stroke="#3a3aa8" stroke-width="0.28" textLength="34.4" lengthAdjust="spacingAndGlyphs">Non-responder</text>
<polyline points="33.7,328.7 66,328.3" fill="none" stroke="#5c5cd0" stroke-width="1.2" stroke-linejoin="round"/>
<circle cx="66" cy="328.3" r="0.85" fill="#4a4a80" opacity="0.75"/>
<polyline points="47,328.6 66,328.3" fill="none" stroke="#5c5cd0" stroke-width="1.2" stroke-linejoin="round"/>
<circle cx="66" cy="328.3" r="0.85" fill="#4a4a80" opacity="0.75"/>
<polyline points="66,328.3 141,280.5" fill="none" stroke="#5c5cd0" stroke-width="1.2" stroke-linejoin="round"/>
<circle cx="141" cy="280.5" r="0.85" fill="#4a4a80" opacity="0.75"/>
<polyline points="33.7,328.7 43.8,328.5 140.5,296.2 197.7,343.2 235,337" fill="none" stroke="#5c5cd0" stroke-width="1.2" stroke-linejoin="round"/>
<circle cx="43.8" cy="328.5" r="0.85" fill="#4a4a80" opacity="0.75"/>
<circle cx="140.5" cy="296.2" r="0.85" fill="#4a4a80" opacity="0.75"/>
<circle cx="197.7" cy="343.2" r="0.85" fill="#4a4a80" opacity="0.75"/>
<circle cx="235" cy="337" r="0.85" fill="#4a4a80" opacity="0.75"/>
<polyline points="66,328.3 140.5,314 175,314 240.6,332.5" fill="none" stroke="#5c5cd0" stroke-width="1.2" stroke-linejoin="round"/>
<circle cx="140.5" cy="314" r="0.85" fill="#4a4a80" opacity="0.75"/>
<circle cx="175" cy="314" r="0.85" fill="#4a4a80" opacity="0.75"/>
<circle cx="240.6" cy="332.5" r="0.85" fill="#4a4a80" opacity="0.75"/>
<polyline points="66,328.3 141.5,330.8 192.7,305.3 236.9,328.8" fill="none" stroke="#5c5cd0" stroke-width="1.2" stroke-linejoin="round"/>
<circle cx="141.5" cy="330.8" r="0.85" fill="#4a4a80" opacity="0.75"/>
<circle cx="192.7" cy="305.3" r="0.85" fill="#4a4a80" opacity="0.75"/>
<circle cx="236.9" cy="328.8" r="0.85" fill="#4a4a80" opacity="0.75"/>
<polyline points="66,328.3 140.5,334 195.9,330.1 243.4,305.9" fill="none" stroke="#5c5cd0" stroke-width="1.2" stroke-linejoin="round"/>
<circle cx="140.5" cy="334" r="0.85" fill="#4a4a80" opacity="0.75"/>
<circle cx="195.9" cy="330.1" r="0.85" fill="#4a4a80" opacity="0.75"/>
<circle cx="243.4" cy="305.9" r="0.85" fill="#4a4a80" opacity="0.75"/>
<polyline points="66,328.3 140.5,340.2 188.4,340.7 228.5,349.7" fill="none" stroke="#5c5cd0" stroke-width="1.2" stroke-linejoin="round"/>
<circle cx="140.5" cy="340.2" r="0.85" fill="#4a4a80" opacity="0.75"/>
<circle cx="188.4" cy="340.7" r="0.85" fill="#4a4a80" opacity="0.75"/>
<circle cx="228.5" cy="349.7" r="0.85" fill="#4a4a80" opacity="0.75"/>
<polyline points="66,328.3 189.3,350 234,339.4" fill="none" stroke="#5c5cd0" stroke-width="1.2" stroke-linejoin="round"/>
<circle cx="189.3" cy="350" r="0.85" fill="#4a4a80" opacity="0.75"/>
<circle cx="234" cy="339.4" r="0.85" fill="#4a4a80" opacity="0.75"/>
<polyline points="66,328.3 133.8,325.1" fill="none" stroke="#5c5cd0" stroke-width="1.2" stroke-linejoin="round"/>
<circle cx="133.8" cy="325.1" r="0.85" fill="#4a4a80" opacity="0.75"/>
<polyline points="66.9,327.9 134.8,362 191.4,371.1 229,374.1" fill="none" stroke="#da1e26" stroke-width="1.9" stroke-linejoin="round"/>
<circle cx="66.9" cy="327.9" r="1.5" fill="#b0141d"/>
<circle cx="134.8" cy="362" r="1.5" fill="#b0141d"/>
<circle cx="191.4" cy="371.1" r="1.5" fill="#b0141d"/>
<circle cx="229" cy="374.1" r="1.5" fill="#b0141d"/>
<polyline points="66.9,327.9 140.2,380 190.5,376.5 249.2,354.4" fill="none" stroke="#da1e26" stroke-width="1.9" stroke-linejoin="round"/>
<circle cx="66.9" cy="327.9" r="1.5" fill="#b0141d"/>
<circle cx="140.2" cy="380" r="1.5" fill="#b0141d"/>
<circle cx="190.5" cy="376.5" r="1.5" fill="#b0141d"/>
<circle cx="249.2" cy="354.4" r="1.5" fill="#b0141d"/>
<line x1="296.3" y1="327.40" x2="520" y2="327.40" stroke="#ebebeb" stroke-width="0.8"/>
<line x1="296.3" y1="362.47" x2="520" y2="362.47" stroke="#ebebeb" stroke-width="0.8"/>
<line x1="296.3" y1="380.01" x2="520" y2="380.01" stroke="#ebebeb" stroke-width="0.8"/>
<line x1="335.4" y1="250" x2="335.4" y2="404.8" stroke="#ebebeb" stroke-width="0.8"/>
<line x1="296.3" y1="250" x2="296.3" y2="404.8" stroke="#d2d2d2" stroke-width="0.9"/>
<line x1="296.3" y1="404.8" x2="520" y2="404.8" stroke="#d2d2d2" stroke-width="0.9"/>
<line x1="291.8" y1="257.25" x2="296.3" y2="257.25" stroke="#d2d2d2" stroke-width="0.8"/>
<text x="290.0" y="262.55" font-size="6.9" fill="#231f20" font-weight="normal" text-anchor="end" stroke="#231f20" stroke-width="0.32" textLength="10.1" lengthAdjust="spacingAndGlyphs">100</text>
<line x1="291.8" y1="274.79" x2="296.3" y2="274.79" stroke="#d2d2d2" stroke-width="0.8"/>
<text x="290.0" y="280.09" font-size="6.9" fill="#231f20" font-weight="normal" text-anchor="end" stroke="#231f20" stroke-width="0.32" textLength="6.6" lengthAdjust="spacingAndGlyphs">75</text>
<line x1="291.8" y1="292.32" x2="296.3" y2="292.32" stroke="#d2d2d2" stroke-width="0.8"/>
<text x="290.0" y="297.62" font-size="6.9" fill="#231f20" font-weight="normal" text-anchor="end" stroke="#231f20" stroke-width="0.32" textLength="6.6" lengthAdjust="spacingAndGlyphs">50</text>
<line x1="291.8" y1="309.86" x2="296.3" y2="309.86" stroke="#d2d2d2" stroke-width="0.8"/>
<text x="290.0" y="315.16" font-size="6.9" fill="#231f20" font-weight="normal" text-anchor="end" stroke="#231f20" stroke-width="0.32" textLength="6.6" lengthAdjust="spacingAndGlyphs">25</text>
<line x1="291.8" y1="327.40" x2="296.3" y2="327.40" stroke="#d2d2d2" stroke-width="0.8"/>
<text x="290.0" y="332.70" font-size="6.9" fill="#231f20" font-weight="normal" text-anchor="end" stroke="#231f20" stroke-width="0.32" textLength="3.4" lengthAdjust="spacingAndGlyphs">0</text>
<line x1="291.8" y1="344.94" x2="296.3" y2="344.94" stroke="#d2d2d2" stroke-width="0.8"/>
<text x="290.0" y="350.24" font-size="6.9" fill="#231f20" font-weight="normal" text-anchor="end" stroke="#231f20" stroke-width="0.32" textLength="9.0" lengthAdjust="spacingAndGlyphs">-25</text>
<line x1="291.8" y1="362.47" x2="296.3" y2="362.47" stroke="#d2d2d2" stroke-width="0.8"/>
<text x="290.0" y="367.77" font-size="6.9" fill="#231f20" font-weight="normal" text-anchor="end" stroke="#231f20" stroke-width="0.32" textLength="9.0" lengthAdjust="spacingAndGlyphs">-50</text>
<line x1="291.8" y1="380.01" x2="296.3" y2="380.01" stroke="#d2d2d2" stroke-width="0.8"/>
<text x="290.0" y="385.31" font-size="6.9" fill="#231f20" font-weight="normal" text-anchor="end" stroke="#231f20" stroke-width="0.32" textLength="9.0" lengthAdjust="spacingAndGlyphs">-75</text>
<line x1="291.8" y1="397.55" x2="296.3" y2="397.55" stroke="#d2d2d2" stroke-width="0.8"/>
<text x="290.0" y="402.85" font-size="6.9" fill="#231f20" font-weight="normal" text-anchor="end" stroke="#231f20" stroke-width="0.32" textLength="13.5" lengthAdjust="spacingAndGlyphs">-100</text>
<line x1="297.66" y1="404.8" x2="297.66" y2="408.2" stroke="#d2d2d2" stroke-width="0.8"/>
<line x1="303.95" y1="404.8" x2="303.95" y2="408.2" stroke="#d2d2d2" stroke-width="0.8"/>
<line x1="310.24" y1="404.8" x2="310.24" y2="408.2" stroke="#d2d2d2" stroke-width="0.8"/>
<line x1="316.53" y1="404.8" x2="316.53" y2="408.2" stroke="#d2d2d2" stroke-width="0.8"/>
<line x1="322.82" y1="404.8" x2="322.82" y2="408.2" stroke="#d2d2d2" stroke-width="0.8"/>
<line x1="329.11" y1="404.8" x2="329.11" y2="408.2" stroke="#d2d2d2" stroke-width="0.8"/>
<line x1="335.40" y1="404.8" x2="335.40" y2="408.2" stroke="#d2d2d2" stroke-width="0.8"/>
<line x1="341.69" y1="404.8" x2="341.69" y2="408.2" stroke="#d2d2d2" stroke-width="0.8"/>
<line x1="347.98" y1="404.8" x2="347.98" y2="408.2" stroke="#d2d2d2" stroke-width="0.8"/>
<line x1="354.27" y1="404.8" x2="354.27" y2="408.2" stroke="#d2d2d2" stroke-width="0.8"/>
<line x1="360.56" y1="404.8" x2="360.56" y2="408.2" stroke="#d2d2d2" stroke-width="0.8"/>
<line x1="366.85" y1="404.8" x2="366.85" y2="408.2" stroke="#d2d2d2" stroke-width="0.8"/>
<line x1="373.14" y1="404.8" x2="373.14" y2="408.2" stroke="#d2d2d2" stroke-width="0.8"/>
<line x1="379.43" y1="404.8" x2="379.43" y2="408.2" stroke="#d2d2d2" stroke-width="0.8"/>
<line x1="385.72" y1="404.8" x2="385.72" y2="408.2" stroke="#d2d2d2" stroke-width="0.8"/>
<line x1="392.01" y1="404.8" x2="392.01" y2="408.2" stroke="#d2d2d2" stroke-width="0.8"/>
<line x1="398.30" y1="404.8" x2="398.30" y2="408.2" stroke="#d2d2d2" stroke-width="0.8"/>
<line x1="404.59" y1="404.8" x2="404.59" y2="408.2" stroke="#d2d2d2" stroke-width="0.8"/>
<line x1="410.88" y1="404.8" x2="410.88" y2="408.2" stroke="#d2d2d2" stroke-width="0.8"/>
<line x1="417.17" y1="404.8" x2="417.17" y2="408.2" stroke="#d2d2d2" stroke-width="0.8"/>
<line x1="423.46" y1="404.8" x2="423.46" y2="408.2" stroke="#d2d2d2" stroke-width="0.8"/>
<line x1="429.75" y1="404.8" x2="429.75" y2="408.2" stroke="#d2d2d2" stroke-width="0.8"/>
<line x1="436.04" y1="404.8" x2="436.04" y2="408.2" stroke="#d2d2d2" stroke-width="0.8"/>
<line x1="442.33" y1="404.8" x2="442.33" y2="408.2" stroke="#d2d2d2" stroke-width="0.8"/>
<line x1="448.62" y1="404.8" x2="448.62" y2="408.2" stroke="#d2d2d2" stroke-width="0.8"/>
<line x1="454.91" y1="404.8" x2="454.91" y2="408.2" stroke="#d2d2d2" stroke-width="0.8"/>
<line x1="461.20" y1="404.8" x2="461.20" y2="408.2" stroke="#d2d2d2" stroke-width="0.8"/>
<line x1="467.49" y1="404.8" x2="467.49" y2="408.2" stroke="#d2d2d2" stroke-width="0.8"/>
<line x1="473.78" y1="404.8" x2="473.78" y2="408.2" stroke="#d2d2d2" stroke-width="0.8"/>
<line x1="480.07" y1="404.8" x2="480.07" y2="408.2" stroke="#d2d2d2" stroke-width="0.8"/>
<line x1="486.36" y1="404.8" x2="486.36" y2="408.2" stroke="#d2d2d2" stroke-width="0.8"/>
<line x1="492.65" y1="404.8" x2="492.65" y2="408.2" stroke="#d2d2d2" stroke-width="0.8"/>
<line x1="498.94" y1="404.8" x2="498.94" y2="408.2" stroke="#d2d2d2" stroke-width="0.8"/>
<line x1="505.23" y1="404.8" x2="505.23" y2="408.2" stroke="#d2d2d2" stroke-width="0.8"/>
<line x1="511.52" y1="404.8" x2="511.52" y2="408.2" stroke="#d2d2d2" stroke-width="0.8"/>
<line x1="517.81" y1="404.8" x2="517.81" y2="408.2" stroke="#d2d2d2" stroke-width="0.8"/>
<text x="296.5" y="418.2" font-size="7.6" fill="#231f20" font-weight="normal" text-anchor="start" stroke="#231f20" stroke-width="0.28" textLength="28.4" lengthAdjust="spacingAndGlyphs">screening</text>
<text x="335.40" y="418.2" font-size="6.9" fill="#231f20" font-weight="normal" text-anchor="middle" stroke="#231f20" stroke-width="0.32" textLength="3.4" lengthAdjust="spacingAndGlyphs">0</text>
<text x="404.59" y="418.2" font-size="6.9" fill="#231f20" font-weight="normal" text-anchor="middle" stroke="#231f20" stroke-width="0.32" textLength="6.5" lengthAdjust="spacingAndGlyphs">11</text>
<text x="454.91" y="418.2" font-size="6.9" fill="#231f20" font-weight="normal" text-anchor="middle" stroke="#231f20" stroke-width="0.32" textLength="7.3" lengthAdjust="spacingAndGlyphs">19</text>
<text x="498.94" y="418.2" font-size="6.9" fill="#231f20" font-weight="normal" text-anchor="middle" stroke="#231f20" stroke-width="0.32" textLength="7.8" lengthAdjust="spacingAndGlyphs">26</text>
<text x="360.3" y="428.5" font-size="7.4" fill="#231f20" font-weight="normal" text-anchor="start" stroke="#231f20" stroke-width="0.28" textLength="95" lengthAdjust="spacingAndGlyphs">weeks from start of treatment</text>
<text x="266.5" y="229.2" font-size="12.2" fill="#000" font-weight="bold" text-anchor="start" stroke="#000" stroke-width="0.3">D</text>
<text x="267.1" y="247.2" font-size="8.3" fill="#231f20" font-weight="normal" text-anchor="start" stroke="#231f20" stroke-width="0.28" textLength="58.8" lengthAdjust="spacingAndGlyphs">change in SPD (%)</text>
<text x="377.1" y="240.1" font-size="7.6" fill="#231f20" font-weight="normal" text-anchor="start" stroke="#231f20" stroke-width="0.28" textLength="34.8" lengthAdjust="spacingAndGlyphs">10 patients</text>
<line x1="455.3" y1="283.6" x2="468.5" y2="283.6" stroke="#da1e26" stroke-width="1.7"/>
<circle cx="455.3" cy="283.6" r="1.8" fill="#da1e26"/>
<circle cx="468.5" cy="283.6" r="1.8" fill="#da1e26"/>
<line x1="455.5" y1="290.0" x2="468.2" y2="290.0" stroke="#5050b8" stroke-width="1.8"/>
<text x="473.4" y="287.20000000000005" font-size="5.2" fill="#d23a3a" font-weight="normal" text-anchor="start" stroke="#d23a3a" stroke-width="0.28" textLength="24" lengthAdjust="spacingAndGlyphs">Responder</text>
<text x="473.4" y="293.90000000000003" font-size="5.2" fill="#3a3aa8" font-weight="normal" text-anchor="start" stroke="#3a3aa8" stroke-width="0.28" textLength="34.4" lengthAdjust="spacingAndGlyphs">Non-responder</text>
<polyline points="315,327.7 403.8,315.7 427.3,257.5" fill="none" stroke="#5c5cd0" stroke-width="1.2" stroke-linejoin="round"/>
<circle cx="403.8" cy="315.7" r="0.85" fill="#4a4a80" opacity="0.75"/>
<circle cx="427.3" cy="257.5" r="0.85" fill="#4a4a80" opacity="0.75"/>
<polyline points="327.7,327.7 407.4,332.8 455.3,300.2" fill="none" stroke="#5c5cd0" stroke-width="1.2" stroke-linejoin="round"/>
<circle cx="407.4" cy="332.8" r="0.85" fill="#4a4a80" opacity="0.75"/>
<circle cx="455.3" cy="300.2" r="0.85" fill="#4a4a80" opacity="0.75"/>
<polyline points="327.7,327.7 411.3,340.8 493.8,346.1" fill="none" stroke="#5c5cd0" stroke-width="1.2" stroke-linejoin="round"/>
<circle cx="411.3" cy="340.8" r="0.85" fill="#4a4a80" opacity="0.75"/>
<circle cx="493.8" cy="346.1" r="0.85" fill="#4a4a80" opacity="0.75"/>
<polyline points="327.7,327.7 415,370.5 454.3,373.5" fill="none" stroke="#5c5cd0" stroke-width="1.2" stroke-linejoin="round"/>
<circle cx="415" cy="370.5" r="0.85" fill="#4a4a80" opacity="0.75"/>
<circle cx="454.3" cy="373.5" r="0.85" fill="#4a4a80" opacity="0.75"/>
<polyline points="327.7,327.7 405.5,327.5 455,336.8 499.3,365.4" fill="none" stroke="#da1e26" stroke-width="1.9" stroke-linejoin="round"/>
<circle cx="327.7" cy="327.7" r="1.5" fill="#b0141d"/>
<circle cx="405.5" cy="327.5" r="1.5" fill="#b0141d"/>
<circle cx="455" cy="336.8" r="1.5" fill="#b0141d"/>
<circle cx="499.3" cy="365.4" r="1.5" fill="#b0141d"/>
<polyline points="327.7,327.7 404.6,363.8 450.3,365.9 493.5,385.7" fill="none" stroke="#da1e26" stroke-width="1.9" stroke-linejoin="round"/>
<circle cx="327.7" cy="327.7" r="1.5" fill="#b0141d"/>
<circle cx="404.6" cy="363.8" r="1.5" fill="#b0141d"/>
<circle cx="450.3" cy="365.9" r="1.5" fill="#b0141d"/>
<circle cx="493.5" cy="385.7" r="1.5" fill="#b0141d"/>
<polyline points="327.7,327.7 403.5,371.2" fill="none" stroke="#da1e26" stroke-width="1.9" stroke-linejoin="round"/>
<circle cx="327.7" cy="327.7" r="1.5" fill="#b0141d"/>
<circle cx="403.5" cy="371.2" r="1.5" fill="#b0141d"/>
<polyline points="327.7,327.7 398.8,376.5 454.3,378.1 494.7,377.6" fill="none" stroke="#da1e26" stroke-width="1.9" stroke-linejoin="round"/>
<circle cx="327.7" cy="327.7" r="1.5" fill="#b0141d"/>
<circle cx="398.8" cy="376.5" r="1.5" fill="#b0141d"/>
<circle cx="454.3" cy="378.1" r="1.5" fill="#b0141d"/>
<circle cx="494.7" cy="377.6" r="1.5" fill="#b0141d"/>
<polyline points="327.7,327.7 398.8,376.5 449,382.7 492.8,389.6" fill="none" stroke="#da1e26" stroke-width="1.9" stroke-linejoin="round"/>
<circle cx="327.7" cy="327.7" r="1.5" fill="#b0141d"/>
<circle cx="398.8" cy="376.5" r="1.5" fill="#b0141d"/>
<circle cx="449" cy="382.7" r="1.5" fill="#b0141d"/>
<circle cx="492.8" cy="389.6" r="1.5" fill="#b0141d"/>
<polyline points="327.7,327.7 415,371.2 472.7,383.9 509.7,389" fill="none" stroke="#da1e26" stroke-width="1.9" stroke-linejoin="round"/>
<circle cx="327.7" cy="327.7" r="1.5" fill="#b0141d"/>
<circle cx="415" cy="371.2" r="1.5" fill="#b0141d"/>
<circle cx="472.7" cy="383.9" r="1.5" fill="#b0141d"/>
<circle cx="509.7" cy="389" r="1.5" fill="#b0141d"/>
</svg>
</body></html>
